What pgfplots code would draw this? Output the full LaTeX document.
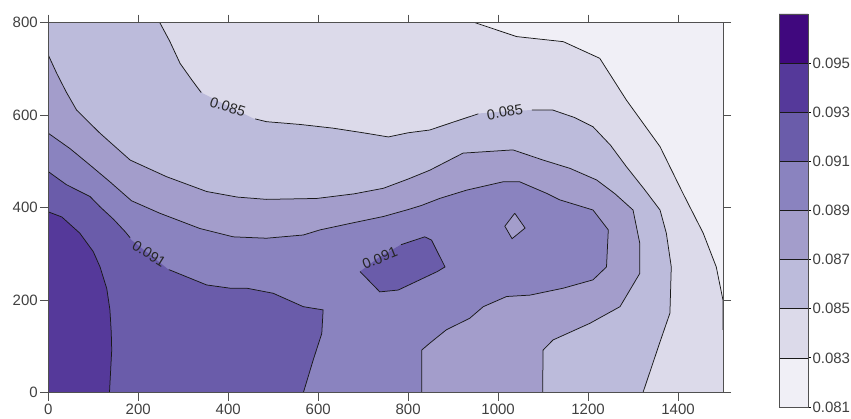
\documentclass[border=0pt]{standalone}
\usepackage{pgfplots}
\pgfplotsset{compat=1.18}
\usepackage{fontspec}
\setmainfont{Liberation Sans}
\definecolor{cA}{HTML}{F0EFF6}
\definecolor{cB}{HTML}{DCDAEA}
\definecolor{cC}{HTML}{BCBBDB}
\definecolor{cD}{HTML}{A39DCB}
\definecolor{cE}{HTML}{8A83BF}
\definecolor{cF}{HTML}{6A5CAA}
\definecolor{cG}{HTML}{55399A}
\definecolor{cH}{HTML}{40087E}
\definecolor{axgray}{HTML}{505050}
\tikzset{cl/.style={black!90, line width=0.75pt, mark=none},
  lab/.style={font=\fontsize{14.5}{16}\selectfont, text=black!85, inner sep=0pt}}
\begin{document}
\begin{tikzpicture}
\useasboundingbox (0pt,0pt) rectangle (851pt,418pt);
\begin{axis}[at={(48.3pt,25.3pt)}, anchor=south west, width=674.7pt, height=370pt,
  scale only axis, xmin=0, xmax=1500, ymin=0, ymax=800,
  xtick={0,200,...,1400}, ytick={0,200,...,800},
  tick align=outside, tick pos=both, major tick length=8pt, axis on top,
  axis line style={axgray, line width=0.9pt}, tick style={axgray, line width=0.9pt},
  ticklabel style={font=\fontsize{15}{17}\selectfont, text=black!75},
  yticklabel style={xshift=1pt},
  /pgf/number format/assume math mode=true, /pgf/number format/1000 sep={}]
% filled levels
\addplot[fill=cA, draw=none] coordinates {(0,0)(1500,0)(1500,800)(0,800)(0,0)};
\addplot[fill=cB, draw=none] coordinates {(0,0)(0,800)(949,800)(1041,770)(1145,759)(1226,723)(1285,633)(1360,532)(1411,431)(1456,345)(1485,272)(1500,200)(1500,136)(1500,0)(0,0)};
\addplot[fill=cC, draw=none] coordinates {(0,0)(0,800)(248,800)(270,760)(293,712)(320,675)(344,647)(399,620)(456,593)(485,586)(560,580)(633,572)(700,562)(756,553)(800,562)(848,568)(900,585)(960,604)(1013,608)(1071,611)(1122,611)(1170,595)(1211,575)(1250,535)(1285,489)(1325,440)(1360,395)(1374,345)(1385,272)(1382,172)(1360,110)(1322,0)(0,0)};
\addplot[fill=cD, draw=none] coordinates {(0,0)(0,730)(19,690)(40,650)(63,611)(115,561)(182,503)(263,467)(352,435)(420,423)(485,418)(597,420)(680,430)(745,442)(800,462)(848,481)(922,518)(1033,525)(1100,503)(1160,485)(1219,460)(1260,430)(1300,395)(1315,323)(1315,258)(1271,186)(1204,150)(1122,114)(1100,92)(1099,0)(0,0)};
\addplot[fill=cE, draw=none] coordinates {(0,0)(0,561)(48,528)(93,492)(137,456)(185,415)(248,388)(337,355)(411,337)(485,334)(567,341)(604,352)(671,366)(745,381)(800,396)(830,405)(870,420)(930,438)(1011,456)(1048,456)(1108,431)(1137,417)(1211,395)(1245,352)(1241,272)(1211,244)(1145,226)(1071,211)(1019,208)(967,186)(937,161)(885,136)(848,107)(830,92)(830,0)(0,0)};
\addplot[fill=cD, draw=none] coordinates {(1037,388)(1060,356)(1031,333)(1015,360)(1037,388)};
\addplot[fill=cF, draw=none] coordinates {(0,0)(0,478)(40,450)(93,424)(115,402)(145,375)(171,348)(185,330)(224,300)(265,268)(271,265)(352,233)(404,226)(441,226)(500,215)(567,186)(611,179)(608,128)(589,71)(567,0)(0,0)};
\addplot[fill=cF, draw=none] coordinates {(693,262)(733,291)(782,319)(837,337)(852,330)(882,272)(865,262)(778,222)(737,218)(693,262)};
\addplot[fill=cG, draw=none] coordinates {(0,0)(0,391)(30,380)(70,345)(100,305)(115,272)(130,225)(137,179)(140,130)(141,92)(136,0)(0,0)};
% contour lines
\addplot[cl] coordinates {(949,800)(1041,770)(1145,759)(1226,723)(1285,633)(1360,532)(1411,431)(1456,345)(1485,272)(1500,200)(1500,136)};
\addplot[cl] coordinates {(248,800)(270,760)(293,712)(320,675)(340,649)};
\addplot[cl] coordinates {(460,592)(485,586)(560,580)(633,572)(700,562)(756,553)(800,562)(848,568)(900,585)(956,603)};
\addplot[cl] coordinates {(1075,611)(1122,611)(1170,595)(1211,575)(1250,535)(1285,489)(1325,440)(1360,395)(1374,345)(1385,272)(1382,172)(1360,110)(1322,0)};
\addplot[cl] coordinates {(0,730)(19,690)(40,650)(63,611)(115,561)(182,503)(263,467)(352,435)(420,423)(485,418)(597,420)(680,430)(745,442)(800,462)(848,481)(922,518)(1033,525)(1100,503)(1160,485)(1219,460)(1260,430)(1300,395)(1315,323)(1315,258)(1271,186)(1204,150)(1122,114)(1100,92)(1099,0)};
\addplot[cl] coordinates {(0,561)(48,528)(93,492)(137,456)(185,415)(248,388)(337,355)(411,337)(485,334)(567,341)(604,352)(671,366)(745,381)(800,396)(830,405)(870,420)(930,438)(1011,456)(1048,456)(1108,431)(1137,417)(1211,395)(1245,352)(1241,272)(1211,244)(1145,226)(1071,211)(1019,208)(967,186)(937,161)(885,136)(848,107)(830,92)(830,0)};
\addplot[cl] coordinates {(1037,388)(1060,356)(1031,333)(1015,360)(1037,388)};
\addplot[cl] coordinates {(0,478)(40,450)(93,424)(115,402)(145,375)(171,348)(182,335)};
\addplot[cl] coordinates {(268,266)(271,265)(352,233)(404,226)(441,226)(500,215)(567,186)(611,179)(608,128)(589,71)(567,0)};
\addplot[cl] coordinates {(784,320)(837,337)(852,330)(882,272)(865,262)(778,222)(737,218)(693,262)};
\addplot[cl] coordinates {(0,391)(30,380)(70,345)(100,305)(115,272)(130,225)(137,179)(140,130)(141,92)(136,0)};
% labels
\node[lab, rotate=-18] at (axis cs:399,618) {0.085};
\node[lab, rotate=10] at (axis cs:1015,607) {0.085};
\node[lab, rotate=-32] at (axis cs:224,300) {0.091};
\node[lab, rotate=22] at (axis cs:737,291) {0.091};
\end{axis}
\begin{axis}[at={(779pt,11pt)}, anchor=south west, width=29pt, height=393pt,
  scale only axis, xmin=0, xmax=1, ymin=81, ymax=97,
  xtick=\empty, ytick={81,83,...,95},
  yticklabels={0.081,0.083,0.085,0.087,0.089,0.091,0.093,0.095},
  ytick pos=right, yticklabel pos=right, tick align=outside, major tick length=3pt,
  axis on top, axis line style={axgray, line width=0.8pt}, tick style={black, line width=0.8pt},
  yticklabel style={font=\fontsize{15}{17}\selectfont, text=black!75, xshift=-2pt}]
\addplot[fill=cA, draw=black!90, line width=0.75pt] coordinates {(0,81)(1,81)(1,83)(0,83)(0,81)};
\addplot[fill=cB, draw=black!90, line width=0.75pt] coordinates {(0,83)(1,83)(1,85)(0,85)(0,83)};
\addplot[fill=cC, draw=black!90, line width=0.75pt] coordinates {(0,85)(1,85)(1,87)(0,87)(0,85)};
\addplot[fill=cD, draw=black!90, line width=0.75pt] coordinates {(0,87)(1,87)(1,89)(0,89)(0,87)};
\addplot[fill=cE, draw=black!90, line width=0.75pt] coordinates {(0,89)(1,89)(1,91)(0,91)(0,89)};
\addplot[fill=cF, draw=black!90, line width=0.75pt] coordinates {(0,91)(1,91)(1,93)(0,93)(0,91)};
\addplot[fill=cG, draw=black!90, line width=0.75pt] coordinates {(0,93)(1,93)(1,95)(0,95)(0,93)};
\addplot[fill=cH, draw=black!90, line width=0.75pt] coordinates {(0,95)(1,95)(1,97)(0,97)(0,95)};
\end{axis}
\end{tikzpicture}
\end{document}
